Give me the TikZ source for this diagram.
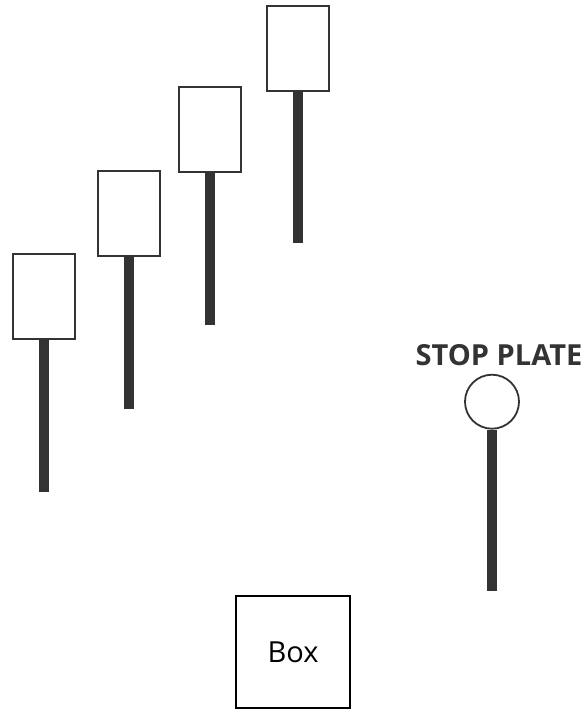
\documentclass[tikz,border=0pt]{standalone}
\usepackage{fontspec}
\setmainfont{Open Sans}
\definecolor{dk}{HTML}{333333}
\begin{document}
\begin{tikzpicture}[x=1pt,y=-1pt,
  card/.style={draw=dk,line width=2pt,fill=white,minimum width=62pt,minimum height=85pt,inner sep=0pt},
  stem/.style={draw=dk,line width=10pt},
  plate/.style={circle,draw=dk,line width=1.8pt,fill=white,minimum size=54pt,inner sep=0pt},
  bigbox/.style={draw=black,line width=2.5pt,minimum width=114pt,minimum height=112pt,inner sep=0pt,font=\fontsize{29}{32}\selectfont}]
\useasboundingbox (0,0) rectangle (587,710);
\coordinate (e1) at (44,492);
\coordinate (e2) at (129,409);
\coordinate (e3) at (210,325);
\coordinate (e4) at (298,243);
\coordinate (e5) at (492,591);
\node[card] (b1) at (44,296.5) {};
\node[card] (b2) at (129,213.3) {};
\node[card] (b3) at (210,129.5) {};
\node[card] (b4) at (298,48.8) {};
\draw[stem] (b1.south) -- (e1);
\draw[stem] (b2.south) -- (e2);
\draw[stem] (b3.south) -- (e3);
\draw[stem] (b4.south) -- (e4);
\node[plate] (p) at (492,401.7) {};
\draw[stem] (p.south) -- (e5);
\node[font=\bfseries\fontsize{29}{32}\selectfont,text=dk,anchor=base] (lbl) at (499,365) {STOP PLATE};
\node[bigbox] (box) at (293,652) {Box};
\end{tikzpicture}
\end{document}
